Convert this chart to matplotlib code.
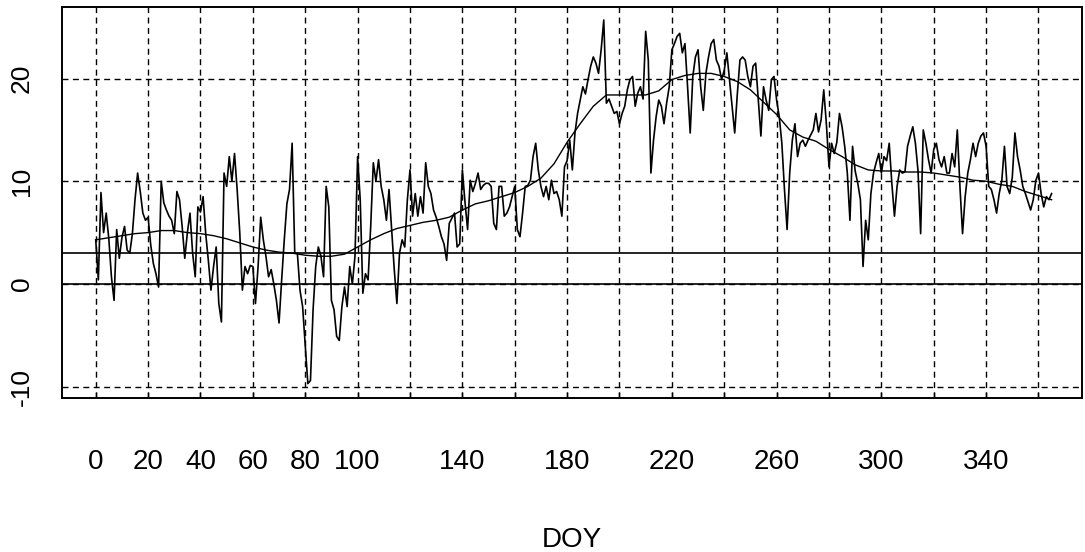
import matplotlib.pyplot as plt
import numpy as np

plt.rcParams['font.family'] = ['Liberation Sans', 'DejaVu Sans']

# daily mean temperature by day of year
doy = np.arange(0, 366)
temp = [
    4.3, 0.4, 8.9, 5.0, 6.9, 4.4, 0.7, -1.6, 5.3, 2.5,
    4.5, 5.6, 3.3, 3.0, 4.9, 8.2, 10.8, 9.0, 6.9, 6.2,
    6.5, 3.8, 2.0, 1.0, -0.3, 10.0, 7.9, 7.2, 6.6, 6.2,
    4.9, 9.0, 8.2, 5.6, 2.5, 5.0, 6.9, 3.0, 0.7, 7.5,
    7.0, 8.5, 4.9, 2.3, -0.6, 1.7, 3.6, -1.9, -3.7, 10.8,
    9.5, 12.4, 10.0, 12.7, 9.2, 5.0, -0.6, 1.7, 1.0, 1.8,
    1.7, -1.9, 1.7, 6.5, 4.3, 2.7, 0.7, 1.4, 0.0, -1.6,
    -3.8, 0.4, 4.3, 7.8, 9.2, 13.7, 3.0, 3.0, -0.6, -2.2,
    -6.0, -9.7, -9.4, -2.5, 1.7, 3.6, 2.7, 0.7, 9.5, 7.5,
    -1.6, -2.5, -5.1, -5.5, -2.2, -0.3, -2.2, 1.7, 0.0, 2.7,
    12.4, 8.2, -0.9, 1.0, 0.4, 5.6, 11.8, 10.0, 12.1, 9.5,
    8.2, 6.2, 9.2, 5.3, 1.4, -1.9, 3.0, 4.3, 3.6, 8.2,
    11.1, 6.6, 8.8, 6.6, 8.5, 6.9, 11.8, 9.5, 8.8, 7.2,
    6.5, 5.6, 4.6, 3.9, 2.3, 5.9, 6.4, 6.9, 3.6, 3.9,
    11.1, 8.0, 5.3, 10.1, 9.0, 9.8, 10.8, 9.2, 9.6, 9.8,
    9.8, 9.5, 5.9, 5.3, 9.5, 9.5, 6.6, 6.9, 7.5, 8.5,
    9.5, 5.3, 4.6, 6.9, 9.5, 9.6, 10.1, 12.4, 13.7, 11.1,
    9.5, 8.5, 9.5, 8.2, 10.1, 8.8, 9.0, 8.2, 6.6, 11.4,
    12.0, 14.0, 11.1, 14.7, 16.6, 17.9, 19.2, 18.5, 19.9, 21.2,
    22.1, 21.5, 20.5, 22.8, 25.7, 17.6, 18.0, 17.3, 16.6, 16.8,
    15.6, 16.6, 17.3, 18.9, 19.9, 20.2, 17.3, 18.6, 19.2, 18.0,
    24.6, 21.8, 10.8, 14.0, 16.3, 17.9, 17.3, 15.6, 17.6, 19.2,
    22.8, 23.4, 24.1, 24.4, 22.5, 23.4, 19.2, 14.7, 20.2, 22.1,
    22.8, 19.2, 16.9, 20.5, 22.1, 23.4, 23.8, 21.8, 21.2, 19.9,
    20.8, 22.5, 19.9, 17.3, 14.7, 18.5, 21.8, 22.1, 21.8, 20.2,
    19.2, 21.2, 21.5, 17.9, 14.4, 19.2, 17.9, 16.9, 19.9, 20.2,
    17.9, 16.3, 13.7, 9.2, 5.3, 10.8, 14.0, 15.6, 12.4, 13.7,
    14.0, 13.4, 14.0, 14.5, 15.0, 16.6, 14.8, 16.0, 18.9, 15.6,
    11.4, 13.7, 12.7, 13.8, 16.6, 15.3, 13.4, 10.8, 6.2, 13.4,
    11.0, 9.8, 8.2, 1.7, 6.2, 4.3, 8.8, 10.8, 11.8, 12.7,
    10.8, 12.4, 12.0, 13.7, 9.8, 6.6, 9.5, 11.1, 10.8, 10.9,
    13.4, 14.4, 15.3, 13.7, 11.0, 4.9, 15.0, 13.7, 12.1, 10.8,
    13.1, 13.7, 12.1, 11.4, 12.4, 10.8, 10.8, 12.7, 11.4, 15.0,
    9.5, 4.9, 8.5, 10.8, 12.1, 13.7, 12.4, 13.7, 14.4, 14.7,
    13.4, 9.5, 9.2, 8.2, 6.9, 8.8, 10.1, 13.4, 9.5, 8.8,
    10.4, 14.7, 12.4, 11.1, 9.5, 8.8, 8.0, 7.2, 8.2, 10.1,
    10.8, 8.8, 7.5, 8.5, 8.2, 8.8,
]

# smoothed seasonal curve, every 5 days
smooth_doy = np.arange(0, 366, 5)
smooth = [
    4.3, 4.5, 4.7, 4.9, 5.0, 5.2, 5.2, 5.0, 4.9, 4.7,
    4.4, 4.0, 3.6, 3.3, 3.1, 3.0, 2.8, 2.7, 2.7, 2.9,
    3.6, 4.3, 4.9, 5.4, 5.7, 6.0, 6.2, 6.5, 7.2, 7.8,
    8.1, 8.5, 8.9, 9.5, 10.3, 11.7, 13.8, 15.6, 17.3, 18.4,
    18.4, 18.4, 18.4, 18.8, 19.9, 20.3, 20.5, 20.5, 20.2, 19.7,
    18.9, 17.7, 16.5, 15.0, 14.3, 13.9, 13.1, 12.4, 11.6, 11.1,
    11.0, 11.0, 10.9, 10.9, 10.8, 10.6, 10.4, 10.1, 10.0, 9.7,
    9.5, 9.0, 8.6, 8.2,
]

xticks = np.arange(0, 361, 20)
xlabels = ['0', '20', '40', '60', '80', '100', '', '140', '', '180', '',
           '220', '', '260', '', '300', '', '340', '']
yticks = [-10, 0, 10, 20]
ref_lines = [0, 3]

fig = plt.figure(figsize=(10.85, 5.52), dpi=100)
ax = fig.add_axes([0.0567, 0.279, 0.9405, 0.709])

dash = (0, (4.3, 3.2))
for x in xticks:
    ax.axvline(x, color='black', lw=1.0, linestyle=dash, zorder=1)
for y in yticks:
    ax.axhline(y, color='black', lw=1.0, linestyle=dash, zorder=1)
for y in ref_lines:
    ax.axhline(y, color='black', lw=1.2, zorder=2)

ax.plot(doy, temp, color='black', lw=1.2, zorder=3)
ax.plot(smooth_doy, smooth, color='black', lw=1.0, zorder=4)

ax.set_xlim(-13.06, 376.6)
ax.set_ylim(-11.1, 27.0)

ax.set_xticks(xticks)
ax.set_xticklabels(xlabels)
ax.set_yticks(yticks)
ax.set_yticklabels([str(v) for v in yticks], rotation=90, va='center')

ax.tick_params(axis='x', direction='in', length=4, width=1.0, pad=37, labelsize=20)
ax.tick_params(axis='y', length=0, pad=20, labelsize=19)
for s in ax.spines.values():
    s.set_linewidth(1.4)

ax.set_xlabel('DOY', fontsize=20, labelpad=37)

fig.savefig('out.png', dpi=100)
